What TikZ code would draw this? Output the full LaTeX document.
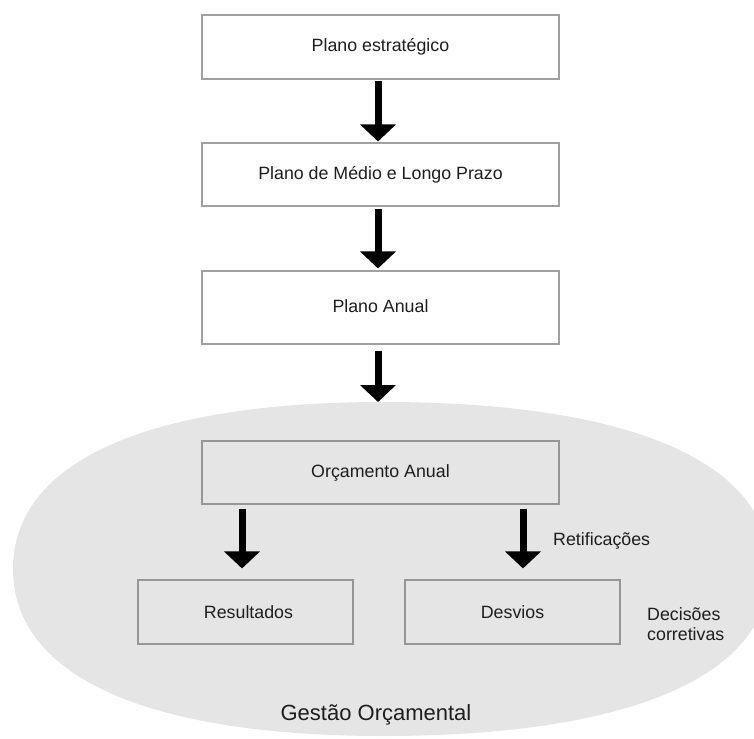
\documentclass[tikz,border=0pt]{standalone}
\usepackage{fontspec}
\setmainfont{Liberation Sans}
\usetikzlibrary{arrows.meta}

\definecolor{boxline}{RGB}{160,160,160}
\definecolor{innerline}{RGB}{150,150,150}
\definecolor{areafill}{RGB}{229,229,229}
\definecolor{ink}{RGB}{30,30,30}

\tikzset{
  plainbox/.style={draw=boxline, line width=1.1pt, fill=white, text=ink,
    inner sep=0pt, font=\fontsize{17.8}{21}\selectfont},
  innerbox/.style={plainbox, draw=innerline, fill=none},
  bigarrow/.style={line width=7pt, black,
    -{Triangle[width=35pt,length=17pt]}},
  note/.style={text=ink, inner sep=0pt, font=\fontsize{17.8}{20.5}\selectfont}
}

\begin{document}
\begin{tikzpicture}[x=1pt, y=-1pt]
  \useasboundingbox (0,0) rectangle (754,738);

  % management area (rounded oval)
  \fill[areafill] (13,569) .. controls (13,462.1) and (146.2,402) .. (383,402)
    .. controls (630.7,402) and (770,462.1) .. (770,569)
    .. controls (770,675.9) and (630.7,736) .. (383,736)
    .. controls (146.2,736) and (13,675.9) .. (13,569) -- cycle;

  % planning chain
  \node[plainbox, minimum width=357pt, minimum height=64pt] (pe) at (380.5,47) {Plano estratégico};
  \node[plainbox, minimum width=357pt, minimum height=63pt] (pm) at (380.5,174.5) {Plano de Médio e Longo Prazo};
  \node[plainbox, minimum width=357pt, minimum height=73pt] (pa) at (380.5,307.5) {\raisebox{2.5pt}{Plano Anual}};

  % budget management
  \node[innerbox, minimum width=357pt, minimum height=63pt] (oa) at (380.5,472.5) {Orçamento Anual};
  \node[innerbox, minimum width=215pt, minimum height=64pt] (res) at (245.5,612) {\hspace*{6pt}Resultados};
  \node[innerbox, minimum width=215pt, minimum height=64pt] (des) at (512.5,612) {Desvios};

  \node[note, anchor=west] (ret) at (553,541) {Retificações};
  \node[note, anchor=west, align=left] (dec) at (647,624) {Decisões\\corretivas};
  \node[text=ink, inner sep=0pt, font=\fontsize{22}{26}\selectfont] (go) at (376,715) {Gestão Orçamental};
  \coordinate (area) at (378,402);

  % connectors
  \draw[bigarrow, shorten <=1pt, shorten >=1pt] ([xshift=-2.5pt]pe.south) -- ([xshift=-2.5pt]pm.north);
  \draw[bigarrow, shorten <=2pt, shorten >=2pt] ([xshift=-2.5pt]pm.south) -- ([xshift=-2.5pt]pa.north);
  \draw[bigarrow, shorten <=6pt] ([xshift=-2.5pt]pa.south) -- (area);
  \draw[bigarrow, shorten <=4pt, shorten >=11pt] ([xshift=-3.5pt]oa.south -| res.north) -- ([xshift=-3.5pt]res.north);
  \draw[bigarrow, shorten <=4pt, shorten >=11pt] ([xshift=10.5pt]oa.south -| des.north) -- ([xshift=10.5pt]des.north);
\end{tikzpicture}
\end{document}
